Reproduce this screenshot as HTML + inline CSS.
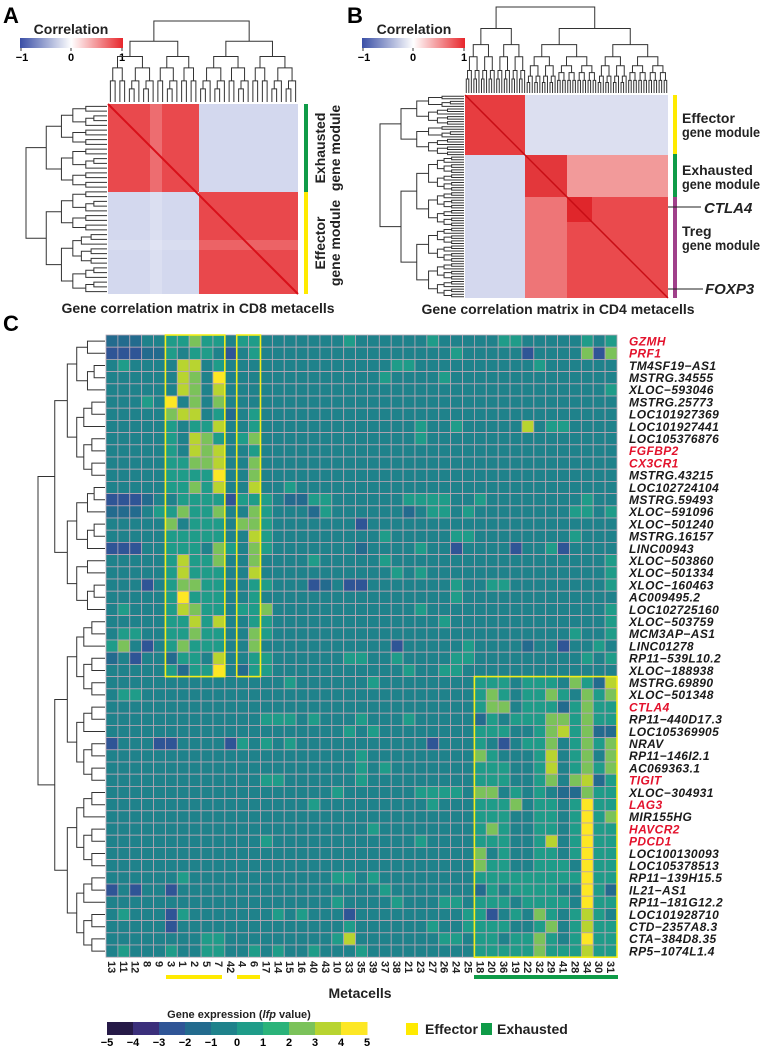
<!DOCTYPE html>
<html><head><meta charset="utf-8"><style>
html,body{margin:0;padding:0;background:#fff;}
svg{display:block;font-family:"Liberation Sans",sans-serif;}
</style></head><body>
<svg id="fig" width="762" height="1047" viewBox="0 0 762 1047" xmlns="http://www.w3.org/2000/svg">
<defs>
<linearGradient id="corrGrad" x1="0" x2="1" y1="0" y2="0">
<stop offset="0" stop-color="#3a4fa6"/><stop offset="0.5" stop-color="#ffffff"/><stop offset="1" stop-color="#e7262b"/>
</linearGradient>
</defs>
<text x="3" y="23" font-size="22" font-weight="bold">A</text>
<text x="347" y="23" font-size="22" font-weight="bold">B</text>
<text x="3" y="331" font-size="22" font-weight="bold">C</text>

<g>
<text x="71" y="34" font-size="14" font-weight="bold" text-anchor="middle" fill="#222">Correlation</text>
<rect x="20" y="38" width="103" height="10" fill="url(#corrGrad)"/>
<path d="M21 48v3M71 48v3M122 48v3" stroke="#333" stroke-width="1"/>
<text x="22" y="61" font-size="11" font-weight="bold" text-anchor="middle">−1</text>
<text x="71" y="61" font-size="11" font-weight="bold" text-anchor="middle">0</text>
<text x="122" y="61" font-size="11" font-weight="bold" text-anchor="middle">1</text>
</g>
<g>
<text x="414" y="34" font-size="14" font-weight="bold" text-anchor="middle" fill="#222">Correlation</text>
<rect x="362" y="38" width="103" height="10" fill="url(#corrGrad)"/>
<path d="M363 48v3M413 48v3M464 48v3" stroke="#333" stroke-width="1"/>
<text x="364" y="61" font-size="11" font-weight="bold" text-anchor="middle">−1</text>
<text x="413" y="61" font-size="11" font-weight="bold" text-anchor="middle">0</text>
<text x="464" y="61" font-size="11" font-weight="bold" text-anchor="middle">1</text>
</g>

<g>
<rect x="108" y="104" width="190" height="190" fill="#d3d8ee"/>
<rect x="108" y="104" width="91" height="88" fill="#e9494d"/>
<rect x="199" y="192" width="99" height="102" fill="#e9484c"/>
<rect x="150" y="104" width="12" height="190" fill="#ffffff" opacity="0.2"/>
<rect x="108" y="240" width="190" height="10" fill="#ffffff" opacity="0.15"/>
<line x1="108" y1="104" x2="298" y2="294" stroke="#d8101a" stroke-width="2"/>
</g>
<rect x="304" y="104" width="4" height="88" fill="#0f9b48"/>
<rect x="304" y="192" width="4" height="102" fill="#ffea00"/>
<g font-size="14" font-weight="bold" fill="#222">
<text transform="translate(325,148) rotate(-90)" text-anchor="middle">Exhausted</text>
<text transform="translate(340,148) rotate(-90)" text-anchor="middle">gene module</text>
<text transform="translate(325,243) rotate(-90)" text-anchor="middle">Effector</text>
<text transform="translate(340,243) rotate(-90)" text-anchor="middle">gene module</text>
</g>
<text x="198" y="313" font-size="14" font-weight="bold" text-anchor="middle" fill="#222">Gene correlation matrix in CD8 metacells</text>

<g>
<rect x="465" y="95" width="203" height="203" fill="#e4e6f3"/>
<rect x="465" y="155" width="60" height="143" fill="#d4d8ee"/>
<rect x="525" y="95" width="143" height="60" fill="#dcdff0"/>
<rect x="525" y="155" width="143" height="143" fill="#f29a9a"/>
<rect x="525" y="197" width="143" height="101" fill="#ee7577"/>
<rect x="465" y="95" width="60" height="60" fill="#e73d40"/>
<rect x="525" y="155" width="42" height="42" fill="#e3373b"/>
<rect x="567" y="197" width="101" height="101" fill="#ea4a4d"/>
<rect x="567" y="197" width="25" height="25" fill="#e0262b"/>
<line x1="465" y1="95" x2="668" y2="298" stroke="#c80d15" stroke-width="1.5"/>
</g>
<rect x="673" y="95" width="4" height="59" fill="#ffea00"/>
<rect x="673" y="154" width="4" height="43" fill="#0f9b48"/>
<rect x="673" y="197" width="4" height="101" fill="#a0408a"/>
<g font-size="14" font-weight="bold" fill="#222">
<text x="682" y="123">Effector</text><text x="682" y="137" textLength="78" lengthAdjust="spacingAndGlyphs">gene module</text>
<text x="682" y="175">Exhausted</text><text x="682" y="189" textLength="78" lengthAdjust="spacingAndGlyphs">gene module</text>
<text x="682" y="236">Treg</text><text x="682" y="250" textLength="78" lengthAdjust="spacingAndGlyphs">gene module</text>
<text x="704" y="213" font-style="italic" font-size="15">CTLA4</text>
<text x="705" y="294" font-style="italic" font-size="15">FOXP3</text>
</g>
<path d="M668 207H701M668 289H703" stroke="#222" stroke-width="1"/>
<text x="558" y="314" font-size="14" font-weight="bold" text-anchor="middle" fill="#222">Gene correlation matrix in CD4 metacells</text>

<g id="dendros" fill="none" stroke="#333" stroke-width="1"></g>
<g id="heat"></g>
<g id="rowlabels" font-size="12" font-weight="bold" font-style="italic"></g>
<g id="collabels" font-size="11" font-weight="bold" fill="#222"></g>

<rect x="166" y="975" width="56" height="4" fill="#ffea00"/>
<rect x="237" y="975" width="23" height="4" fill="#ffea00"/>
<rect x="474" y="975" width="144" height="4" fill="#0f9b48"/>
<text x="360" y="998" font-size="14" font-weight="bold" text-anchor="middle" fill="#222">Metacells</text>

<g>
<text x="239" y="1018" font-size="11" font-weight="bold" text-anchor="middle" fill="#222">Gene expression (<tspan font-style="italic">lfp</tspan> value)</text>
<g id="cbar"></g>
</g>
<g>
<rect x="406" y="1023" width="12" height="12" fill="#ffea00"/>
<text x="425" y="1034" font-size="14" font-weight="bold" fill="#222">Effector</text>
<rect x="481" y="1023" width="11" height="12" fill="#0f9b48"/>
<text x="497" y="1034" font-size="14" font-weight="bold" fill="#222">Exhausted</text>
</g>
</svg>
<script>
const NS = "http://www.w3.org/2000/svg";
const metacells = ["13","11","12","8","9","3","1","2","5","7","42","4","6","17","14","15","16","40","43","10","33","35","39","37","38","21","23","27","26","24","25","18","20","36","19","22","32","29","41","28","34","30","31"];
const genes = ["GZMH","PRF1","TM4SF19−AS1","MSTRG.34555","XLOC−593046","MSTRG.25773","LOC101927369","LOC101927441","LOC105376876","FGFBP2","CX3CR1","MSTRG.43215","LOC102724104","MSTRG.59493","XLOC−591096","XLOC−501240","MSTRG.16157","LINC00943","XLOC−503860","XLOC−501334","XLOC−160463","AC009495.2","LOC102725160","XLOC−503759","MCM3AP−AS1","LINC01278","RP11−539L10.2","XLOC−188938","MSTRG.69890","XLOC−501348","CTLA4","RP11−440D17.3","LOC105369905","NRAV","RP11−146I2.1","AC069363.1","TIGIT","XLOC−304931","LAG3","MIR155HG","HAVCR2","PDCD1","LOC100130093","LOC105378513","RP11−139H15.5","IL21−AS1","RP11−181G12.2","LOC101928710","CTD−2357A8.3","CTA−384D8.35","RP5−1074L1.4"];
const redGenes = ["GZMH","PRF1","FGFBP2","CX3CR1","CTLA4","TIGIT","LAG3","HAVCR2","PDCD1"];
const colorTicks = [-5,-4,-3,-2,-1,0,1,2,3,4,5];
// each digit d = expression bin; value = d - 4.5 (lfp)
const effectorRows = [
"33344 55755 4 55 444444454444445444 445544444545",
"22233 54554 2 45 444444444444444454 444424444727",
"45444 48845 4 44 444444444445544444 444445444444",
"44444 48749 4 44 444444444454444544 444444444444",
"44444 48748 4 44 444444444444444444 444444444445",
"44454 94747 4 44 444444444444444444 444444444444",
"44444 78845 3 45 444444444444444444 444444444444",
"44444 54558 4 45 444444444444454454 444484554444",
"44444 54875 4 57 444444444444454444 444444444444",
"44444 54878 4 45 444444444444444444 444444444444",
"44444 55778 4 47 444444444444444444 444444444444",
"44444 55559 4 47 444444444444444444 444444444444",
"44444 55758 4 48 445444444444444444 444444444444",
"22234 45555 2 55 543355444444555544 544444444544",
"33345 57557 4 47 544435444444345545 444444445545",
"44444 74555 4 77 544444442444444444 444444444444",
"44444 55555 4 48 544444444454444455 444444445444",
"22244 55547 5 47 544444443444454424 444244524444",
"44444 58557 4 47 444454444454444444 444444444445",
"44444 58555 4 48 444444444445454444 444444444445",
"44424 57755 4 45 544423422444444454 455444444445",
"44444 59555 4 45 444444444444444454 444444444444",
"45444 58755 4 55 744444444444454444 444444444445",
"44444 55858 4 45 544444444444444544 444444444445",
"45544 55755 4 47 544444444444444444 444444445445",
"57424 57555 4 47 444444444442444445 444434424454",
"34244 35548 4 45 544444455445444455 444444444545",
"44444 53559 4 35 544444444444544554 444444444444"];
const exhaustedRows = [
"44444 44444 44444 54444 44544 444444 555455547538",
"45544 44444 44444 44444 44444 444444 575455754757",
"44444 44444 44444 44444 44444 444444 577455535755",
"44444 44444 44455 54544 45444 544444 354555775755",
"44444 44444 44444 44444 54544 444444 555445785733",
"24442 24444 25454 54444 44444 442444 542455745757",
"44444 44444 44444 44444 45444 444444 754445845747",
"44444 44444 44444 44444 45454 444444 555445845757",
"44444 44444 44455 44444 45444 444444 555445747835",
"44444 44444 44444 44445 44444 455554 774545433755",
"44444 44444 44444 44544 44444 445444 555745545955",
"44444 44444 44444 44444 44444 444444 555445545957",
"44444 44444 44444 44444 44544 444444 575445545955",
"44444 44444 44454 44444 44444 454444 555445845955",
"44444 44444 44444 44444 44444 444444 745445545955",
"44444 44444 44444 44444 44444 444444 755445554955",
"44444 45444 44444 44445 54544 444444 555555555955",
"24244 24444 44444 44444 44454 444444 354555544953",
"44444 44444 44444 44445 44445 444554 555455554955",
"45444 25444 44445 45444 24444 444445 524547545854",
"44444 24444 44444 44444 54444 445445 555445745855",
"44444 44455 44444 44445 84444 444554 554557545955",
"45444 54455 44545 44544 45444 444444 555557555855"];
const palette = ["#261a47","#3b2f7b","#2f5596","#236b8e","#1f828b","#1f9c89","#2bb37a","#7bc25a","#b8d430","#fde725"];

const x0 = 106, y0 = 335, cw = 511/43, rh = 12.2;
function xCol(i){ return x0 + i*cw; }
function yRow(j){ return y0 + j*rh; }
function binOf(v){ return Math.max(0, Math.min(9, Math.floor(v + 5))); }

const rows = effectorRows.concat(exhaustedRows).map(s => s.replace(/ /g,"").split("").map(c => (+c) - 4.5));
const heat = document.getElementById("heat");
rows.forEach((r, j) => {
  r.forEach((v, i) => {
    const rc = document.createElementNS(NS, "rect");
    rc.setAttribute("x", xCol(i)); rc.setAttribute("y", yRow(j));
    rc.setAttribute("width", cw); rc.setAttribute("height", rh);
    rc.setAttribute("fill", palette[binOf(v)]);
    rc.setAttribute("stroke", "#b9a7b5"); rc.setAttribute("stroke-width", "0.8");
    
    
    heat.appendChild(rc);
  });
});
function box(c0, c1, r0, r1, name){
  const b = document.createElementNS(NS, "rect");
  b.setAttribute("x", xCol(c0)); b.setAttribute("y", yRow(r0));
  b.setAttribute("width", xCol(c1) - xCol(c0)); b.setAttribute("height", yRow(r1) - yRow(r0));
  b.setAttribute("fill", "none"); b.setAttribute("stroke", "#f5ee1a"); b.setAttribute("stroke-width", "1.6");
  
  
  heat.appendChild(b);
}
box(5, 10, 0, 28, "effector-box-1");
box(11, 13, 0, 28, "effector-box-2");
box(31, 43, 28, 51, "exhausted-box");

const rl = document.getElementById("rowlabels");
genes.forEach((g, j) => {
  const t = document.createElementNS(NS, "text");
  t.setAttribute("x", 629); t.setAttribute("y", yRow(j) + rh/2 + 4.3);
  t.setAttribute("fill", redGenes.includes(g) ? "#e3122c" : "#1a1a1a");
  t.setAttribute("letter-spacing", "0.4");
  t.textContent = g;
  
  
  rl.appendChild(t);
});
const cl = document.getElementById("collabels");
metacells.forEach((m, i) => {
  const t = document.createElementNS(NS, "text");
  const cx = xCol(i) + cw/2 - 4;
  t.setAttribute("transform", "translate(" + cx + ",961) rotate(90)");
  t.textContent = m;
  
  
  cl.appendChild(t);
});

const cb = document.getElementById("cbar");
for (let k = 0; k < 10; k++) {
  const r = document.createElementNS(NS, "rect");
  r.setAttribute("x", 107 + 26*k); r.setAttribute("y", 1022); r.setAttribute("width", 26.5); r.setAttribute("height", 13);
  r.setAttribute("fill", palette[k]);
  
  
  cb.appendChild(r);
}
colorTicks.forEach((v, k) => {
  const t = document.createElementNS(NS, "text");
  t.setAttribute("x", 107 + 26*k); t.setAttribute("y", 1046);
  t.setAttribute("font-size", "11"); t.setAttribute("font-weight", "bold"); t.setAttribute("text-anchor", "middle");
  t.textContent = v < 0 ? "−" + (-v) : String(v);
  
  
  cb.appendChild(t);
});

const dg = document.getElementById("dendros");
let dpath = "";
function treeH(lo, hi, xr, xl, pos, split){
  if (hi - lo === 1) return [pos(lo), xl];
  const mid = split !== undefined ? split : lo + Math.ceil((hi - lo) * ((lo*7+hi*3)%5 < 2 ? 0.4 : 0.5));
  const step = (xl - xr) * (hi - lo > 6 ? 0.25 : 0.38);
  const a = treeH(lo, mid, xr + step, xl, pos);
  const b = treeH(mid, hi, xr + step, xl, pos);
  dpath += "M" + a[1] + " " + a[0] + "H" + xr + "V" + b[0] + "H" + b[1];
  return [(a[0] + b[0]) / 2, xr];
}
function treeV(lo, hi, yr, yl, pos, split){
  if (hi - lo === 1) return [pos(lo), yl];
  const mid = split !== undefined ? split : lo + Math.ceil((hi - lo) * ((lo*3+hi*7)%5 < 2 ? 0.4 : 0.5));
  const step = (yl - yr) * (hi - lo > 6 ? 0.25 : 0.38);
  const a = treeV(lo, mid, yr + step, yl, pos);
  const b = treeV(mid, hi, yr + step, yl, pos);
  dpath += "M" + a[0] + " " + a[1] + "V" + yr + "H" + b[0] + "V" + b[1];
  return [(a[0] + b[0]) / 2, yr];
}
treeH(0, 51, 38, 105, j => yRow(j) + rh/2, 23);
treeH(0, 40, 26, 107, j => 104 + (j + 0.5) * 190/40, 18);
treeV(0, 40, 21, 102, i => 108 + (i + 0.5) * 190/40, 19);
treeH(0, 80, 380, 464, j => 95 + (j + 0.5) * 203/80, 24);
treeV(0, 80, 7, 93, i => 465 + (i + 0.5) * 203/80, 24);
const p = document.createElementNS(NS, "path");
p.setAttribute("d", dpath);


dg.appendChild(p);
</script>
</body></html>
